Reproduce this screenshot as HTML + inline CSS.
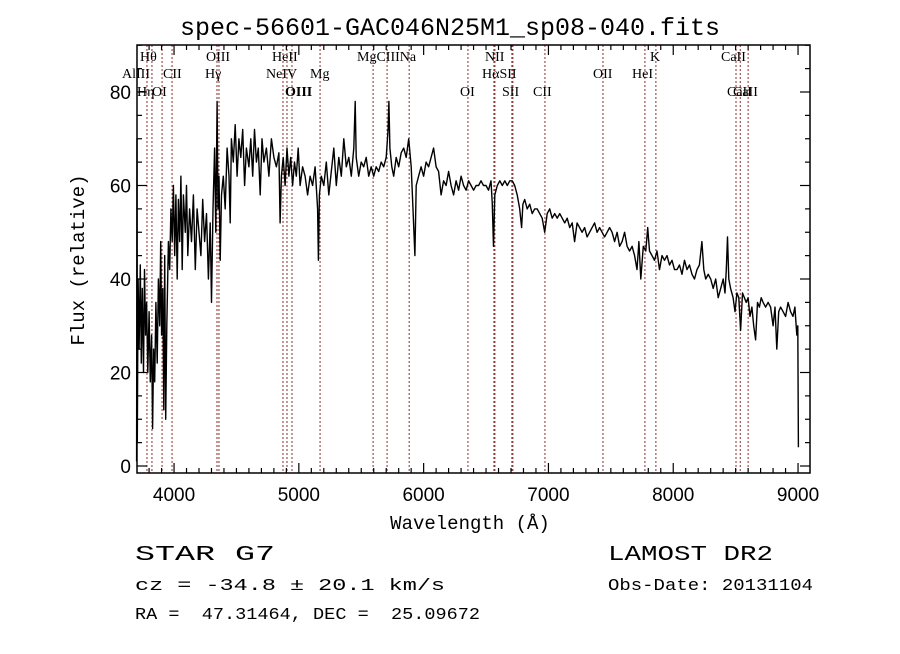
<!DOCTYPE html>
<html><head><meta charset="utf-8"><style>
body{margin:0;background:#fff;}
svg text{fill:#000;}
.serif{font-family:"Liberation Serif",serif;}
.mono{font-family:"Liberation Mono",monospace;}
</style></head><body>
<svg id="chart" width="900" height="649" viewBox="0 0 900 649" xmlns="http://www.w3.org/2000/svg">
<rect width="900" height="649" fill="#fff"/>
<text class="mono" x="450" y="35" text-anchor="middle" font-size="25" textLength="540" lengthAdjust="spacingAndGlyphs">spec-56601-GAC046N25M1_sp08-040.fits</text>
<g id="lines"></g>
<g id="linelabels" class="serif" font-size="14" font-family="Liberation Serif, serif">
<text x="140" y="61">Hθ</text><text x="206" y="61">OIII</text><text x="272" y="61">HeII</text><text x="357" y="61">MgCIIINa</text>
<text x="485" y="61">NII</text><text x="650" y="61">K</text><text x="721" y="61">CaII</text>
<text x="122" y="78">AlIII</text><text x="163" y="78">CII</text><text x="205" y="78">Hγ</text><text x="266" y="78">NeIV</text><text x="310" y="78">Mg</text>
<text x="482" y="78">HαSII</text><text x="593" y="78">OII</text><text x="632" y="78">HeI</text>
<text x="137" y="96">Hη</text><text x="152" y="96">OI</text><text x="285" y="96" font-weight="bold">OIII</text>
<text x="460" y="96">OI</text><text x="502" y="96">SII</text><text x="533" y="96">CII</text><text x="727" y="96">CaII</text><text x="733" y="96">CaII</text>
</g>
<g id="axes"></g>
<polyline id="spec" fill="none" stroke="#000" stroke-width="1.4" stroke-linejoin="round"/>
<rect x="137" y="45" width="673" height="428" fill="none" stroke="#000" stroke-width="1.5"/>
<text class="mono" transform="translate(84,260) rotate(-90)" text-anchor="middle" font-size="19">Flux (relative)</text>
<text class="mono" x="470" y="529" text-anchor="middle" font-size="19">Wavelength (Å)</text>
<text class="mono" x="135" y="560" font-size="21" textLength="140" lengthAdjust="spacingAndGlyphs">STAR    G7</text>
<text class="mono" x="608" y="560" font-size="21" textLength="165" lengthAdjust="spacingAndGlyphs">LAMOST DR2</text>
<text class="mono" x="135" y="590" font-size="17" textLength="310" lengthAdjust="spacingAndGlyphs">cz = -34.8 ± 20.1 km/s</text>
<text class="mono" x="608" y="590" font-size="17" textLength="205" lengthAdjust="spacingAndGlyphs">Obs-Date: 20131104</text>
<text class="mono" x="135" y="619" font-size="17" textLength="345" lengthAdjust="spacingAndGlyphs" style="white-space:pre">RA =  47.31464, DEC =  25.09672</text>
</svg>
<script>
const wave=[3700,3703,3706,3712,3720,3730,3738,3746,3755,3763,3772,3780,3790,3800,3810,3820,3828,3836,3845,3855,3865,3875,3885,3893,3900,3910,3918,3925,3933,3942,3955,3965,3975,3985,3995,4005,4015,4025,4035,4045,4055,4065,4075,4090,4100,4110,4125,4140,4155,4170,4185,4200,4215,4230,4245,4260,4275,4290,4300,4312,4325,4335,4345,4352,4360,4370,4380,4395,4410,4425,4440,4450,4460,4475,4490,4505,4520,4535,4550,4565,4580,4600,4615,4630,4645,4660,4675,4690,4705,4720,4740,4760,4780,4800,4820,4840,4850,4860,4875,4890,4905,4920,4935,4950,4965,4980,4995,5010,5030,5050,5070,5090,5110,5130,5150,5157,5165,5180,5200,5220,5240,5260,5280,5300,5320,5340,5360,5380,5400,5420,5440,5452,5460,5480,5500,5520,5540,5560,5580,5600,5620,5640,5660,5680,5700,5715,5722,5730,5745,5760,5780,5800,5820,5840,5860,5880,5900,5910,5930,5940,5960,5980,6000,6020,6040,6060,6080,6100,6120,6140,6160,6180,6200,6220,6240,6260,6280,6300,6320,6340,6360,6380,6400,6420,6440,6460,6480,6500,6520,6540,6550,6560,6570,6590,6610,6630,6650,6670,6690,6710,6730,6750,6770,6785,6795,6810,6830,6850,6870,6890,6910,6930,6950,6970,6990,7010,7030,7050,7070,7090,7110,7130,7150,7170,7190,7210,7230,7250,7270,7290,7310,7330,7350,7370,7390,7410,7430,7450,7470,7490,7510,7530,7550,7570,7590,7610,7630,7650,7670,7690,7710,7725,7740,7760,7780,7795,7810,7830,7850,7870,7890,7910,7930,7950,7970,7990,8010,8030,8050,8070,8090,8110,8130,8150,8170,8190,8210,8230,8245,8260,8280,8300,8320,8340,8360,8380,8400,8415,8425,8435,8445,8460,8480,8495,8510,8525,8540,8555,8570,8585,8600,8615,8630,8645,8660,8675,8690,8705,8720,8740,8760,8780,8800,8815,8830,8845,8860,8880,8900,8920,8940,8960,8975,8990,8998,9003];
const flux=[1,70,5,40,25,43,22,38,20,42,28,35,20,33,18,28,8,25,18,35,22,40,30,48,28,38,12,45,10,30,48,42,55,48,60,45,58,40,57,48,62,42,58,50,60,45,55,48,58,42,55,50,45,57,48,54,40,52,35,55,68,50,78,55,62,44,58,62,55,68,62,52,70,65,73,62,70,66,72,60,68,64,70,62,72,65,68,58,70,65,68,62,70,66,64,67,52,62,66,60,68,62,66,60,65,62,68,60,64,62,58,62,60,64,55,44,58,62,60,65,58,63,68,60,66,62,70,64,66,62,68,78,66,62,65,64,66,62,64,62,64,63,65,64,66,72,78,68,64,62,66,64,67,68,66,70,64,58,45,60,62,64,62,65,64,66,68,64,63,58,61,60,63,60,58,61,59,62,60,59,61,60,59,60,60,61,60,60,59,61,56,47,58,60,61,60,61,60,61,61,60,58,55,51,56,57,55,56,54,55,55,54,53,50,54,55,53,54,53,54,53,52,53,51,52,48,52,51,50,51,49,50,51,52,50,51,50,49,50,51,50,48,50,47,48,50,47,46,47,45,42,48,40,47,46,51,46,45,44,46,42,45,44,45,43,44,42,42,43,41,44,42,43,41,40,42,43,48,42,40,41,40,38,40,36,38,40,37,42,49,40,38,36,33,37,36,29,37,36,35,36,32,34,30,27,35,34,36,35,34,35,34,30,34,25,33,34,33,32,35,33,32,34,28,30,4];
const lineWaves=[3703,3783,3823,3904,3984,4344,4360,4873,4905,4945,5170,5595,5707,5884,6355,6563,6571,6707,6715,6972,7437,7773,7861,8503,8537,8600];
const xTicks=[4000,5000,6000,7000,8000,9000];
const yTicks=[0,20,40,60,80];
const X0=137,X1=810,Y0=45,Y1=473;
function xs(w){return 136.6+(w-3700)*0.1248;}
function ys(f){return 466-f*4.675;}
const NS='http://www.w3.org/2000/svg';
document.getElementById('spec').setAttribute('points',wave.map((w,i)=>xs(w).toFixed(1)+','+ys(flux[i]).toFixed(1)).join(' '));
const lg=document.getElementById('lines');
lineWaves.forEach(w=>{const l=document.createElementNS(NS,'line');


const x=xs(w);l.setAttribute('x1',x);l.setAttribute('x2',x);l.setAttribute('y1',Y0);l.setAttribute('y2',Y1);
l.setAttribute('stroke','#8b2e2e');l.setAttribute('stroke-width','1');l.setAttribute('stroke-dasharray','2,2');lg.appendChild(l);});
const ax=document.getElementById('axes');
function ln(x1,y1,x2,y2){const l=document.createElementNS(NS,'line');


l.setAttribute('x1',x1);l.setAttribute('y1',y1);l.setAttribute('x2',x2);l.setAttribute('y2',y2);l.setAttribute('stroke','#000');l.setAttribute('stroke-width','1.2');ax.appendChild(l);}
for(let w=3700;w<=9100;w+=100){const x=xs(w);if(x<X0||x>X1)continue;const L=(w%1000===0)?10:5;ln(x,Y1,x,Y1-L);ln(x,Y0,x,Y0+L);}
for(let f=0;f<=90;f+=5){const y=ys(f);if(y<Y0)continue;const L=(f%20===0)?10:5;ln(X0,y,X0+L,y);ln(X1,y,X1-L,y);}
xTicks.forEach(w=>{const t=document.createElementNS(NS,'text');


t.setAttribute('x',xs(w));t.setAttribute('y',501);t.setAttribute('text-anchor','middle');t.setAttribute('font-family','Liberation Sans, sans-serif');t.setAttribute('font-size','19');t.textContent=w;ax.appendChild(t);});
yTicks.forEach(f=>{const t=document.createElementNS(NS,'text');


t.setAttribute('x',131);t.setAttribute('y',ys(f)+7);t.setAttribute('text-anchor','end');t.setAttribute('font-family','Liberation Sans, sans-serif');t.setAttribute('font-size','19');t.textContent=f;ax.appendChild(t);});
</script>
</body></html>
